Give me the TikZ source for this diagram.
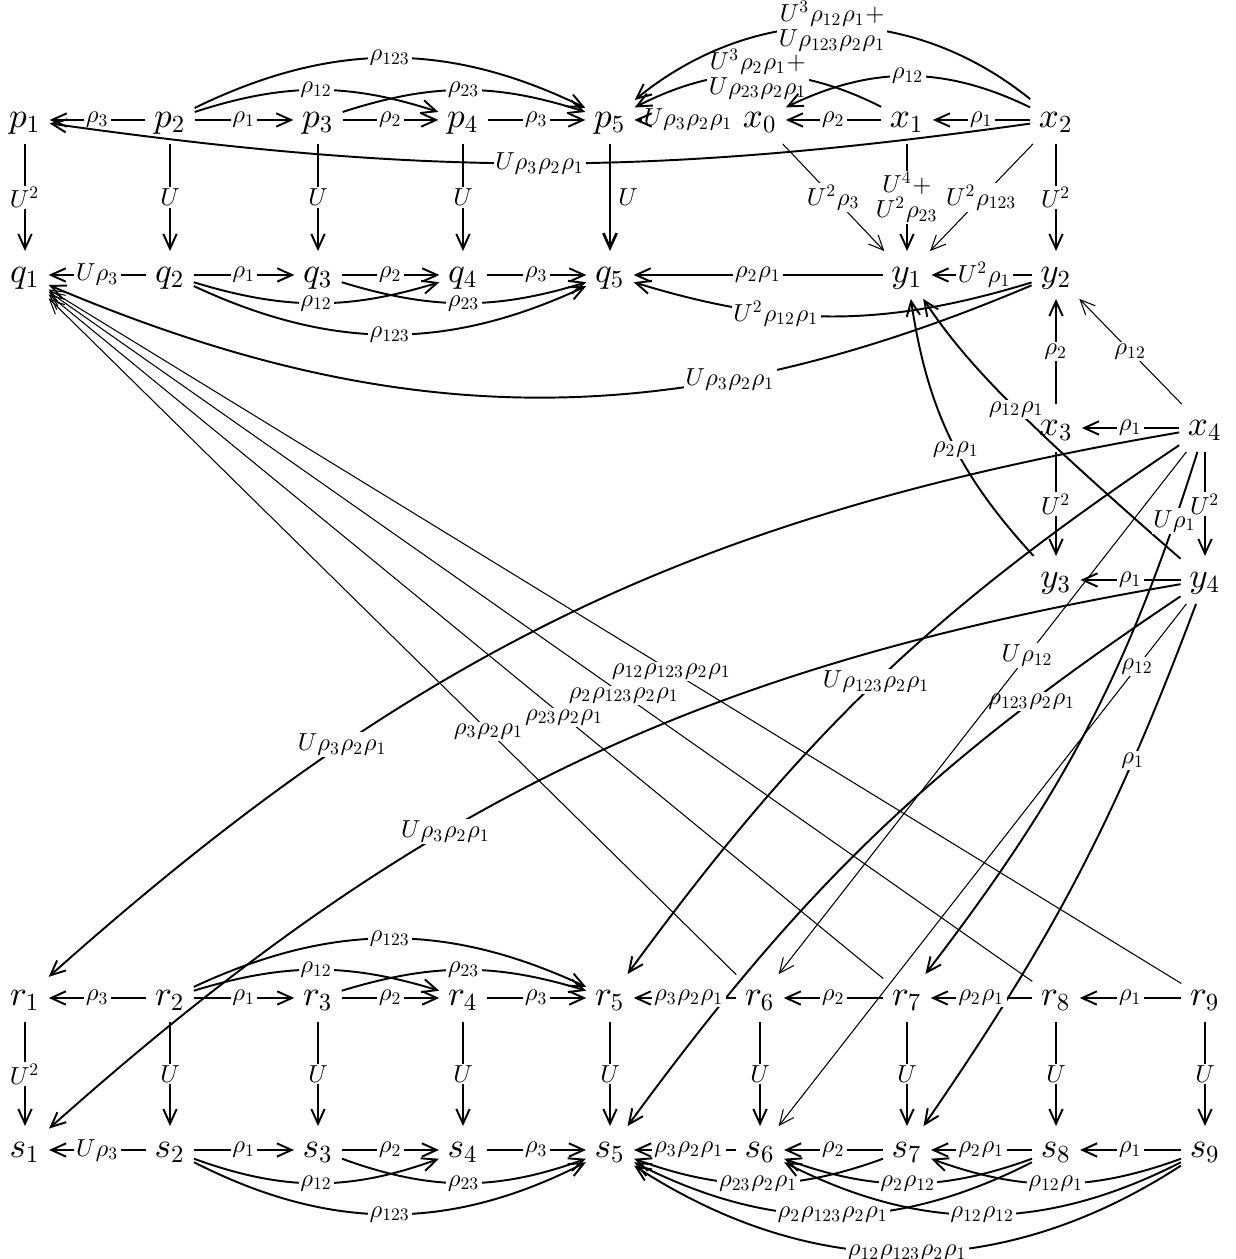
\documentclass[tikz,border=0pt]{standalone}
\usepackage{amsmath}
\usepackage{tikz}
\usetikzlibrary{positioning, arrows.meta, calc}
% math letters scaled from one design size
\DeclareFontShape{OT1}{cmr}{m}{n}{<-> cmr10}{}
\DeclareFontShape{OML}{cmm}{m}{it}{<-> cmmi10}{}
\DeclareFontShape{OMS}{cmsy}{m}{n}{<-> cmsy10}{}
\tikzset{
  % generator of the complex
  obj/.style={inner sep=2.5pt, outer sep=0pt, text height=1.5ex, text depth=0.5ex},
  % differential component
  map/.style={-{Straight Barb[length=4.2pt,width=3.8pt]}, line width=0.55pt},
  % lighter component
  lightmap/.style={map, line width=0.3pt},
  % coefficient written on the arrow
  lab/.style={fill=white, inner sep=0.5pt, font=\scriptsize},
}
\newcommand{\pqnodes}{%
  \foreach \i/\x in {1/0.25,2/1.70,3/3.18,4/4.63,5/6.10}{
    \node[obj] (p\i) at (\x,11.39) {$p_\i$};
    \node[obj] (q\i) at (\x,9.84) {$q_\i$};
  }%
}
\newcommand{\xynodes}{%
  \node[obj] (x0) at (7.60,11.39) {$x_0$};
  \node[obj] (x1) at (9.07,11.39) {$x_1$};
  \node[obj] (x2) at (10.56,11.39) {$x_2$};
  \node[obj] (y1) at (9.07,9.84) {$y_1$};
  \node[obj] (y2) at (10.56,9.84) {$y_2$};
  \node[obj] (x3) at (10.56,8.31) {$x_3$};
  \node[obj] (x4) at (12.05,8.31) {$x_4$};
  \node[obj] (y3) at (10.56,6.79) {$y_3$};
  \node[obj] (y4) at (12.05,6.79) {$y_4$};%
}
\newcommand{\rsnodes}{%
  \foreach \i/\x in {1/0.25,2/1.70,3/3.18,4/4.63,5/6.10,6/7.60,7/9.07,8/10.56,9/12.05}{
    \node[obj] (r\i) at (\x,2.61) {$r_\i$};
    \node[obj] (s\i) at (\x,1.09) {$s_\i$};
  }%
}

\begin{document}
\begin{tikzpicture}
  \useasboundingbox (0,0) rectangle (12.35,12.59);
  \pqnodes
  \xynodes
  \rsnodes
  % top square
  \draw[map] (p2) -- node[lab]{$\rho_3$} (p1);
  \foreach \a/\b/\l in {2/3/\rho_1,3/4/\rho_2,4/5/\rho_3}{
    \draw[map] (p\a) -- node[lab]{$\l$} (p\b);
    \draw[map] (q\a) -- node[lab]{$\l$} (q\b);
  }
  \draw[map] (p2) to[bend left=18] node[lab]{$\rho_{12}$} (p4);
  \draw[map] (p3) to[bend left=18] node[lab]{$\rho_{23}$} (p5);
  \draw[map] (p2) to[bend left=26] node[lab]{$\rho_{123}$} (p5);
  \draw[map] (x0) -- node[lab, pos=0.46]{$U\rho_3\rho_2\rho_1$} (p5);
  \draw[map, shorten <=0.95cm] (x0) -- (p5); % tip over the label
  \draw[map] (x1) -- node[lab]{$\rho_2$} (x0);
  \draw[map] (x2) -- node[lab]{$\rho_1$} (x1);
  \draw[map] (x1) to[bend right=27] node[lab, align=center]
    {$U^3\rho_2\rho_1+$\\[-1pt]$U\rho_{23}\rho_2\rho_1$} (p5);
  \draw[map] (x2) to[bend right=39] node[lab, align=center]
    {$U^3\rho_{12}\rho_1+$\\[-1pt]$U\rho_{123}\rho_2\rho_1$} (p5);
  \draw[map] (x2) to[bend right=26] node[lab]{$\rho_{12}$} (x0);
  \draw[map] (x2) to[bend left=8] node[lab]{$U\rho_3\rho_2\rho_1$} (p1);
  % verticals p -> q
  \draw[map] (p1) -- node[lab]{$U^2$} (q1);
  \foreach \i in {2,3,4}
    \draw[map] (p\i) -- node[lab]{$U$} (q\i);
  \draw[map, line width=0.75pt] (p5) -- node[right, font=\scriptsize, inner sep=2pt]{$U$} (q5);
  \draw[lightmap] (x0) -- node[lab]{$U^2\rho_3$} (y1);
  \draw[map] (x1) -- node[lab, align=center]{$U^4+$\\[-1pt]$U^2\rho_{23}$} (y1);
  \draw[lightmap] (x2) -- node[lab]{$U^2\rho_{123}$} (y1);
  \draw[map] (x2) -- node[lab]{$U^2$} (y2);
  % q row
  \draw[map] (q2) -- node[lab]{$U\rho_3$} (q1);
  \draw[map] (q2) to[bend right=17] node[lab]{$\rho_{12}$} (q4);
  \draw[map] (q3) to[bend right=17] node[lab]{$\rho_{23}$} (q5);
  \draw[map] (q2) to[bend right=25] node[lab]{$\rho_{123}$} (q5);
  \draw[map] (y1) -- node[lab]{$\rho_2\rho_1$} (q5);
  \draw[map] (y2) -- node[lab, pos=0.47]{$U^2\rho_1$} (y1);
  \draw[map] (y2) to[bend left=17] node[lab, pos=0.65]{$U^2\rho_{12}\rho_1$} (q5);
  \draw[map] (y2) to[bend left=23] node[lab, pos=0.3]{$U\rho_3\rho_2\rho_1$} (q1);
  % right block
  \draw[map] (x3) -- node[lab]{$\rho_2$} (y2);
  \draw[lightmap] (x4) -- node[lab]{$\rho_{12}$} (y2);
  \draw[map] (x4) -- node[lab]{$\rho_1$} (x3);
  \draw[map] (x3) -- node[lab]{$U^2$} (y3);
  \draw[map] (y4) -- node[lab]{$\rho_1$} (y3);
  \draw[map] (y3) to[bend left=17] node[lab, pos=0.45]{$\rho_2\rho_1$} (y1);
  \draw[map] (y4) to[out=139, in=-56, out looseness=1.6, in looseness=0.5]
    node[lab, pos=0.44]{$\rho_{12}\rho_1$} (y1);
  % long maps down to r and s
  \draw[map] (x4) to[bend right=16] node[lab, pos=0.72]{$U\rho_3\rho_2\rho_1$} (r1);
  \draw[map] (y4) to[bend right=16] node[lab, pos=0.62]{$U\rho_3\rho_2\rho_1$} (s1);
  \draw[map] (x4) to[bend right=10] node[lab, pos=0.5]{$U\rho_{123}\rho_2\rho_1$} (r5);
  \draw[map] (y4) to[bend right=10] node[lab, pos=0.22]{$\rho_{123}\rho_2\rho_1$} (s5);
  \draw[lightmap] (x4) -- node[lab, pos=0.39]{$U\rho_{12}$} (r6);
  \draw[lightmap] (y4) -- node[lab, pos=0.12]{$\rho_{12}$} (s6);
  \draw[map] (x4) to[bend left=10] node[lab, pos=0.11]{$U\rho_1$} (r7);
  \draw[map] (y4) to[bend left=7] node[lab, pos=0.27]{$\rho_1$} (s7);
  \draw[map] (x4) -- node[lab]{$U^2$} (y4);
  % long maps up to q1
  \draw[lightmap] (r6) -- node[lab, pos=0.36]{$\rho_3\rho_2\rho_1$} (q1);
  \draw[lightmap] (r7) -- node[lab, pos=0.382]{$\rho_{23}\rho_2\rho_1$} (q1);
  \draw[lightmap] (r8) -- node[lab, pos=0.415]{$\rho_2\rho_{123}\rho_2\rho_1$} (q1);
  \draw[lightmap] (r9) -- node[lab, pos=0.45]{$\rho_{12}\rho_{123}\rho_2\rho_1$} (q1);
  % bottom square
  \draw[map] (r2) -- node[lab]{$\rho_3$} (r1);
  \draw[map] (s2) -- node[lab]{$U\rho_3$} (s1);
  \foreach \a/\b/\l in {2/3/\rho_1,3/4/\rho_2,4/5/\rho_3}{
    \draw[map] (r\a) -- node[lab]{$\l$} (r\b);
    \draw[map] (s\a) -- node[lab]{$\l$} (s\b);
  }
  \draw[map] (r2) to[bend left=17] node[lab]{$\rho_{12}$} (r4);
  \draw[map] (r3) to[bend left=17] node[lab]{$\rho_{23}$} (r5);
  \draw[map] (r2) to[bend left=25] node[lab]{$\rho_{123}$} (r5);
  \draw[map] (s2) to[bend right=20] node[lab]{$\rho_{12}$} (s4);
  \draw[map] (s3) to[bend right=20] node[lab]{$\rho_{23}$} (s5);
  \draw[map] (s2) to[bend right=27] node[lab]{$\rho_{123}$} (s5);
  \foreach \a/\b/\l in {7/6/\rho_2,8/7/\rho_2\rho_1,9/8/\rho_1}{
    \draw[map] (r\a) -- node[lab]{$\l$} (r\b);
    \draw[map] (s\a) -- node[lab]{$\l$} (s\b);
  }
  \draw[map] (r6) -- node[lab, pos=0.46]{$\rho_3\rho_2\rho_1$} (r5);
  \draw[map] (s6) -- node[lab, pos=0.46]{$\rho_3\rho_2\rho_1$} (s5);
  \draw[map] (r1) -- node[lab]{$U^2$} (s1);
  \foreach \i in {2,...,9}
    \draw[map] (r\i) -- node[lab]{$U$} (s\i);
  \draw[map] (s7) to[bend left=20] node[lab]{$\rho_{23}\rho_2\rho_1$} (s5);
  \draw[map] (s8) to[bend left=20] node[lab]{$\rho_2\rho_{12}$} (s6);
  \draw[map] (s9) to[bend left=20] node[lab]{$\rho_{12}\rho_1$} (s7);
  \draw[map] (s8) to[bend left=27] node[lab]{$\rho_2\rho_{123}\rho_2\rho_1$} (s5);
  \draw[map] (s9) to[bend left=27] node[lab]{$\rho_{12}\rho_{12}$} (s6);
  \draw[map] (s9) to[bend left=33] node[lab]{$\rho_{12}\rho_{123}\rho_2\rho_1$} (s5);
\end{tikzpicture}
\end{document}
